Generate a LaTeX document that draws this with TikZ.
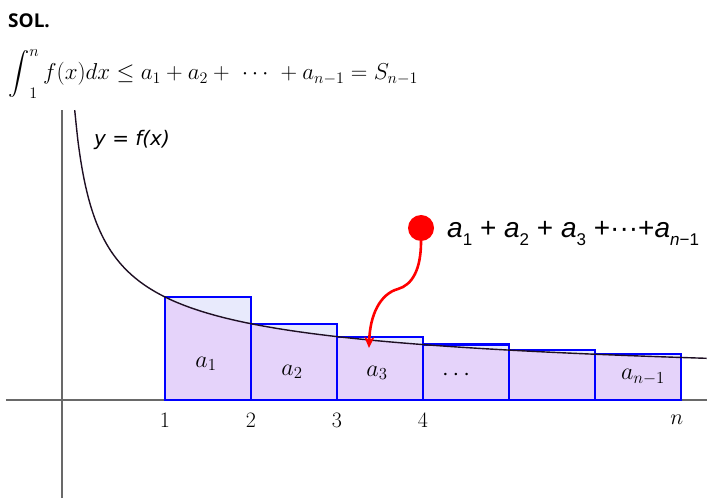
\RequirePackage{fix-cm}
\documentclass[tikz,border=0pt]{standalone}
\usepackage{amsmath}
\usepackage{graphicx}
\usepackage{fontspec}
\newfontfamily\headfont{Open Sans}
\newfontfamily\curvefont{DejaVu Sans}
\newfontfamily\sumfont{Liberation Sans}
\usepackage{xcolor}
\definecolor{BarBlue}{RGB}{0,0,255}
\definecolor{UnderFill}{RGB}{229,211,250}
\definecolor{OverFill}{RGB}{232,234,252}
\definecolor{AxisGray}{RGB}{105,105,105}
\definecolor{CurveCol}{RGB}{30,15,35}
\definecolor{PointRed}{RGB}{255,0,0}
\usepackage{tikz}
\usetikzlibrary{arrows.meta}
\tikzstyle{Axis}=[draw=AxisGray,line width=1.6pt]
\tikzstyle{Bar}=[draw=BarBlue,line width=2.2pt]
\tikzstyle{Curve}=[draw=CurveCol,line width=1.4pt]
\tikzstyle{Pointer}=[draw=PointRed,line width=2.6pt,
-{Stealth[length=11pt,width=10pt,inset=3pt]}]
\tikzstyle{Dot}=[circle,fill=PointRed,minimum size=26pt,inner sep=0pt]
\tikzstyle{Tick}=[inner sep=0pt,font=\fontsize{22}{24}\selectfont]
\tikzstyle{Term}=[inner sep=0pt,font=\fontsize{24}{26}\selectfont]
\tikzstyle{Head}=[inner sep=0pt,font=\headfont\bfseries\fontsize{19}{20}\selectfont]
\tikzstyle{Formula}=[inner sep=0pt,font=\fontsize{23}{25}\selectfont]
\tikzstyle{CurveLabel}=[inner sep=0pt,font=\curvefont\itshape\fontsize{20}{22}\selectfont]
\tikzstyle{SumLabel}=[inner sep=0pt,font=\sumfont\fontsize{28}{30}\selectfont]
\newcommand{\sumsub}[1]{\raisebox{-8pt}{\fontsize{17}{17}\selectfont\upshape #1}}
\newcommand{\sumterm}[1]{\textit{a}\sumsub{#1}}
\newcommand{\sumint}{\mathop{\vcenter{\hbox{\scalebox{0.85}{$\displaystyle\int$}}}}\nolimits}

\begin{document}
\begin{tikzpicture}[x=86pt,y=86pt,
    declare function={f(\x)=0.0093+1.302/sqrt(\x+0.2);}]
        \useasboundingbox (-79pt,-98pt) rectangle (643pt,400pt);
        \draw[Axis](-0.85,0)--(7.3,0);
        \draw[Axis](-0.2,-1.14)--(-0.2,3.37);
        \foreach \k in {1,...,6}
            \fill[OverFill](\k,0) rectangle ({\k+1},{f(\k)});
        \fill[UnderFill](1,0)--plot[domain=1:7,samples=60,smooth](\x,{f(\x)})--(7,0)--cycle;
        \foreach \k in {1,...,6}
            \draw[Bar](\k,0) rectangle ({\k+1},{f(\k)});
        \draw[Curve]plot[domain=-0.05:7.3,samples=200,smooth](\x,{f(\x)});
        \node[Head,anchor=base west](sol)at(-0.826,4.326){SOL.};
        \node[Formula,anchor=base west](ineq)at(-0.826,3.721){$\displaystyle
            \sumint_1^n f(x)dx \le a_1+a_2+\ \cdots\ +a_{n-1}=S_{n-1}$};
        \node[CurveLabel](flabel)at(0.616,3.023){y = f(x)};
        \foreach \k in {1,...,4}
            \node[Tick](t\k)at(\k,-0.233){$\k$};
        \node[Tick](tn)at(6.95,-0.233){$n$};
        \node[Term](a1)at(1.477,0.419){$a_1$};
        \node[Term](a2)at(2.477,0.326){$a_2$};
        \node[Term](a3)at(3.465,0.314){$a_3$};
        \node[Term](dots)at(4.407,0.291){$\cdots$};
        \node[Term](an)at(6.558,0.267){$a_{n-1}$};
        \node[Dot](dot)at(3.977,2.0){};
        \node[SumLabel,anchor=base west](sum)at(4.279,1.895){\sumterm{1} + \sumterm{2}
            + \sumterm{3} +···+\sumterm{\textit{n}−1}};
        \coordinate(hit)at(3.372,0.605);
        \draw[Pointer](dot.south) .. controls (3.977,1.512) and (3.872,1.337) .. (3.709,1.291)
            .. controls (3.5,1.233) and (3.384,0.988) .. (hit);
    \end{tikzpicture}
\end{document}
